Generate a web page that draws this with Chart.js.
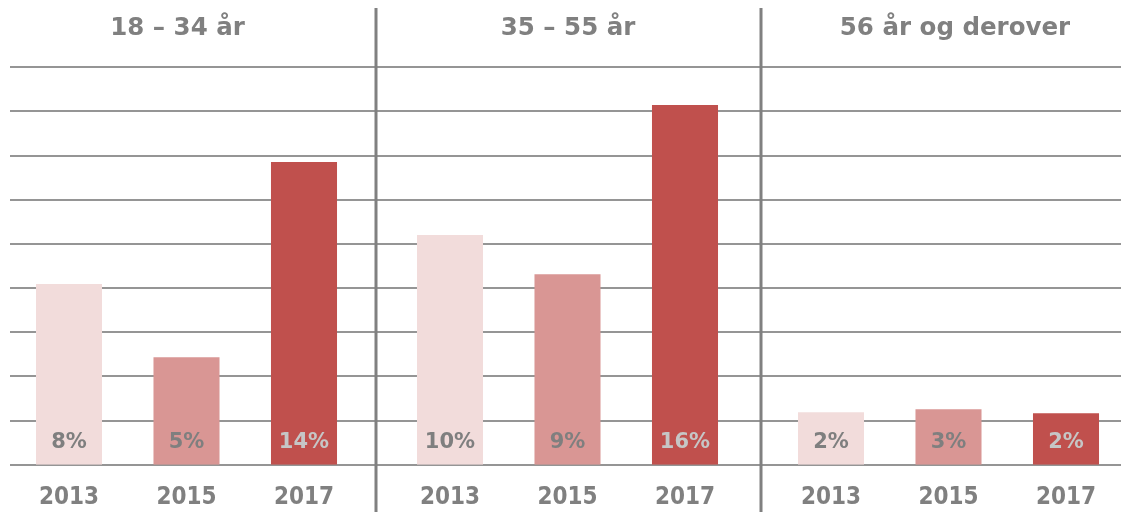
<!DOCTYPE html>
<html>
<head>
<meta charset="utf-8">
<script src="https://cdn.jsdelivr.net/npm/chart.js@4.4.1/dist/chart.umd.min.js"></script>
<style>
    body { margin: 0; background: #ffffff; overflow: hidden; }
    #wrap { position: relative; width: 1121px; height: 512px; overflow: hidden; }
    #wrap canvas { position: absolute; left: 0; top: 0; }
</style>
</head>
<body>
<div id="wrap">
    <canvas id="chart_young" width="1126" height="530"></canvas>
    <canvas id="chart_mid" width="1126" height="530"></canvas>
    <canvas id="chart_old" width="1126" height="530"></canvas>
</div>
<script>
// data (share of respondents, %)
const years = ["2013", "2015", "2017"];
const groups = ["18 – 34 år", "35 – 55 år", "56 år og derover"];
const youngValues = [8.18, 4.87, 13.71];
const midValues = [10.40, 8.63, 16.29];
const oldValues = [2.38, 2.51, 2.33];
const gridTicks = [0, 2, 4, 6, 8, 10, 12, 14, 16, 18];

const barColors = ['#f2dcdb', '#d99694', '#c0504d'];
const labelColors = ['#7f7f7f', '#7f7f7f', '#c6c6c6'];
const grey = '#808080';
const condensed = '"DejaVu Sans Condensed", "DejaVu Sans", sans-serif';
const regular = '"DejaVu Sans", sans-serif';

// gridlines + panel separators, drawn once by the first chart
const backgroundPlugin = {
    id: 'background',
    beforeDatasetsDraw(chart) {
        const ctx = chart.ctx;
        const y = chart.scales.y;
        ctx.save();
        ctx.strokeStyle = '#959595';
        ctx.lineWidth = 2;
        gridTicks.forEach(t => {
            const py = Math.round(y.getPixelForValue(t));
            ctx.beginPath();
            ctx.moveTo(10, py);
            ctx.lineTo(1121, py);
            ctx.stroke();
        });
        ctx.strokeStyle = grey;
        ctx.lineWidth = 3;
        [376, 761].forEach(x => {
            ctx.beginPath();
            ctx.moveTo(x, 8);
            ctx.lineTo(x, 530);
            ctx.stroke();
        });
        ctx.restore();
    }
};

const valueLabelPlugin = {
    id: 'valueLabels',
    afterDatasetsDraw(chart) {
        const ctx = chart.ctx;
        const meta = chart.getDatasetMeta(0);
        const values = chart.data.datasets[0].data;
        const base = chart.scales.y.getPixelForValue(0);
        ctx.save();
        ctx.font = 'bold 21px ' + regular;
        ctx.textAlign = 'center';
        ctx.textBaseline = 'middle';
        meta.data.forEach((bar, i) => {
            ctx.fillStyle = labelColors[i];
            ctx.fillText(Math.round(values[i]) + '%', bar.x, base - 22);
        });
        ctx.restore();
    }
};

// panel heading, centred over the panel with a small shift
const headingPlugin = {
    id: 'heading',
    afterDraw(chart, args, opts) {
        const ctx = chart.ctx;
        const area = chart.chartArea;
        ctx.save();
        ctx.font = 'bold 24.5px ' + regular;
        ctx.fillStyle = grey;
        ctx.textAlign = 'center';
        ctx.textBaseline = 'middle';
        ctx.fillText(opts.text, (area.left + area.right) / 2 + opts.shift, 29);
        ctx.restore();
    }
};

function createPanel(id, title, values, padLeft, padRight, shift, extraPlugins) {
    const canvas = document.getElementById(id);
    const config = {
        type: 'bar',
        data: {
            labels: years,
            datasets: [{
                data: values,
                backgroundColor: barColors,
                borderWidth: 0,
                categoryPercentage: 1.0,
                barPercentage: 0.562
            }]
        },
        options: {
            responsive: false,
            animation: false,
            events: [],
            layout: {
                padding: { left: padLeft, right: padRight, top: 67.3, bottom: 0 }
            },
            plugins: {
                legend: { display: false },
                tooltip: { enabled: false },
                title: { display: false },
                heading: { text: title, shift: shift }
            },
            scales: {
                x: {
                    grid: { display: false, drawTicks: false },
                    border: { display: false },
                    ticks: {
                        color: grey,
                        padding: 18.25,
                        font: { family: condensed, size: 24, weight: 'bold' }
                    }
                },
                y: {
                    display: false,
                    min: 0,
                    max: 18
                }
            }
        },
        plugins: [valueLabelPlugin, headingPlugin].concat(extraPlugins)
    };
    return new Chart(canvas, config);
}

createPanel('chart_young', groups[0], youngValues, 10.25, 763.25, -9, [backgroundPlugin]);
createPanel('chart_mid', groups[1], midValues, 391.25, 382.25, 0.5, []);
createPanel('chart_old', groups[2], oldValues, 772.25, 1.25, 6.5, []);
</script>
</body>
</html>
